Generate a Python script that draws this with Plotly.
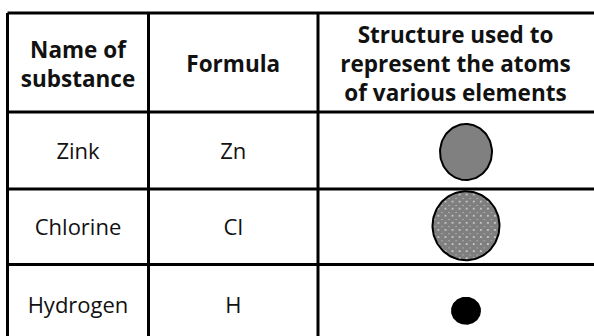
import numpy as np
import plotly.graph_objects as go

# table content
headers = ["Name of<br>substance", "Formula", "Structure used to<br>represent the atoms<br>of various elements"]
names = ["Zink", "Chlorine", "Hydrogen"]
formulas = ["Zn", "Cl", "H"]

# layout of the table in page pixels
W, H = 594, 336
col_edges = [7.5, 148.5, 318, 597]
row_edges = [13, 112, 189, 264.5, 345]
atom_x = 466

# how each atom is drawn: (half width, half height, y nudge, fill, pattern)
atom_style = [
    (26, 28, 1.5, "#808080", None),
    (33.5, 34.5, -1, "white", dict(shape="x", size=5, solidity=0.95, fgcolor="black", bgcolor="white")),
    (14, 13, 6, "black", None),
]

FONT = "Open Sans"
TXT = "#111111"

col_mid = [(a + b) / 2 for a, b in zip(col_edges[:-1], col_edges[1:])]
col_mid[2] = 455.5  # right border sits past the page edge
row_mid = [(a + b) / 2 for a, b in zip(row_edges[:-1], row_edges[1:])]

fig = go.Figure()

# header row
fig.add_trace(go.Scatter(
    x=col_mid, y=[row_mid[0] + 4] * 3, mode="text", text=["<b>%s</b>" % h for h in headers],
    textposition="middle center", textfont=dict(family=FONT, size=22.5, color=TXT),
    hoverinfo="skip", showlegend=False))

# body text
fig.add_trace(go.Scatter(
    x=[col_mid[0]] * len(names) + [col_mid[1]] * len(formulas),
    y=[m + 3 for m in row_mid[1:] * 2], mode="text", text=names + formulas,
    textposition="middle center", textfont=dict(family=FONT, size=22, color=TXT),
    hoverinfo="skip", showlegend=False))

# atoms
t = np.linspace(0, 2 * np.pi, 121)
for (rx, ry, dy, fill, pat), cy in zip(atom_style, row_mid[1:]):
    kw = dict(fillpattern=pat) if pat else dict(fillcolor=fill)
    fig.add_trace(go.Scatter(
        x=atom_x + rx * np.cos(t), y=cy + dy + ry * np.sin(t),
        mode="lines", fill="toself", line=dict(color="black", width=2),
        hoverinfo="skip", showlegend=False, **kw))

# grid lines
for xe in col_edges:
    fig.add_shape(type="line", x0=xe, x1=xe, y0=row_edges[0], y1=row_edges[-1],
                  line=dict(color="black", width=3))
for ye in row_edges:
    fig.add_shape(type="line", x0=col_edges[0], x1=col_edges[-1], y0=ye, y1=ye,
                  line=dict(color="black", width=3))

fig.update_xaxes(range=[0, W], visible=False, fixedrange=True)
fig.update_yaxes(range=[H, 0], visible=False, fixedrange=True)
fig.update_layout(width=W, height=H, margin=dict(l=0, r=0, t=0, b=0),
                  plot_bgcolor="white", paper_bgcolor="white")
fig.write_html("out.html", config={"displayModeBar": False},
               post_script="document.body.style.margin='0px';")
